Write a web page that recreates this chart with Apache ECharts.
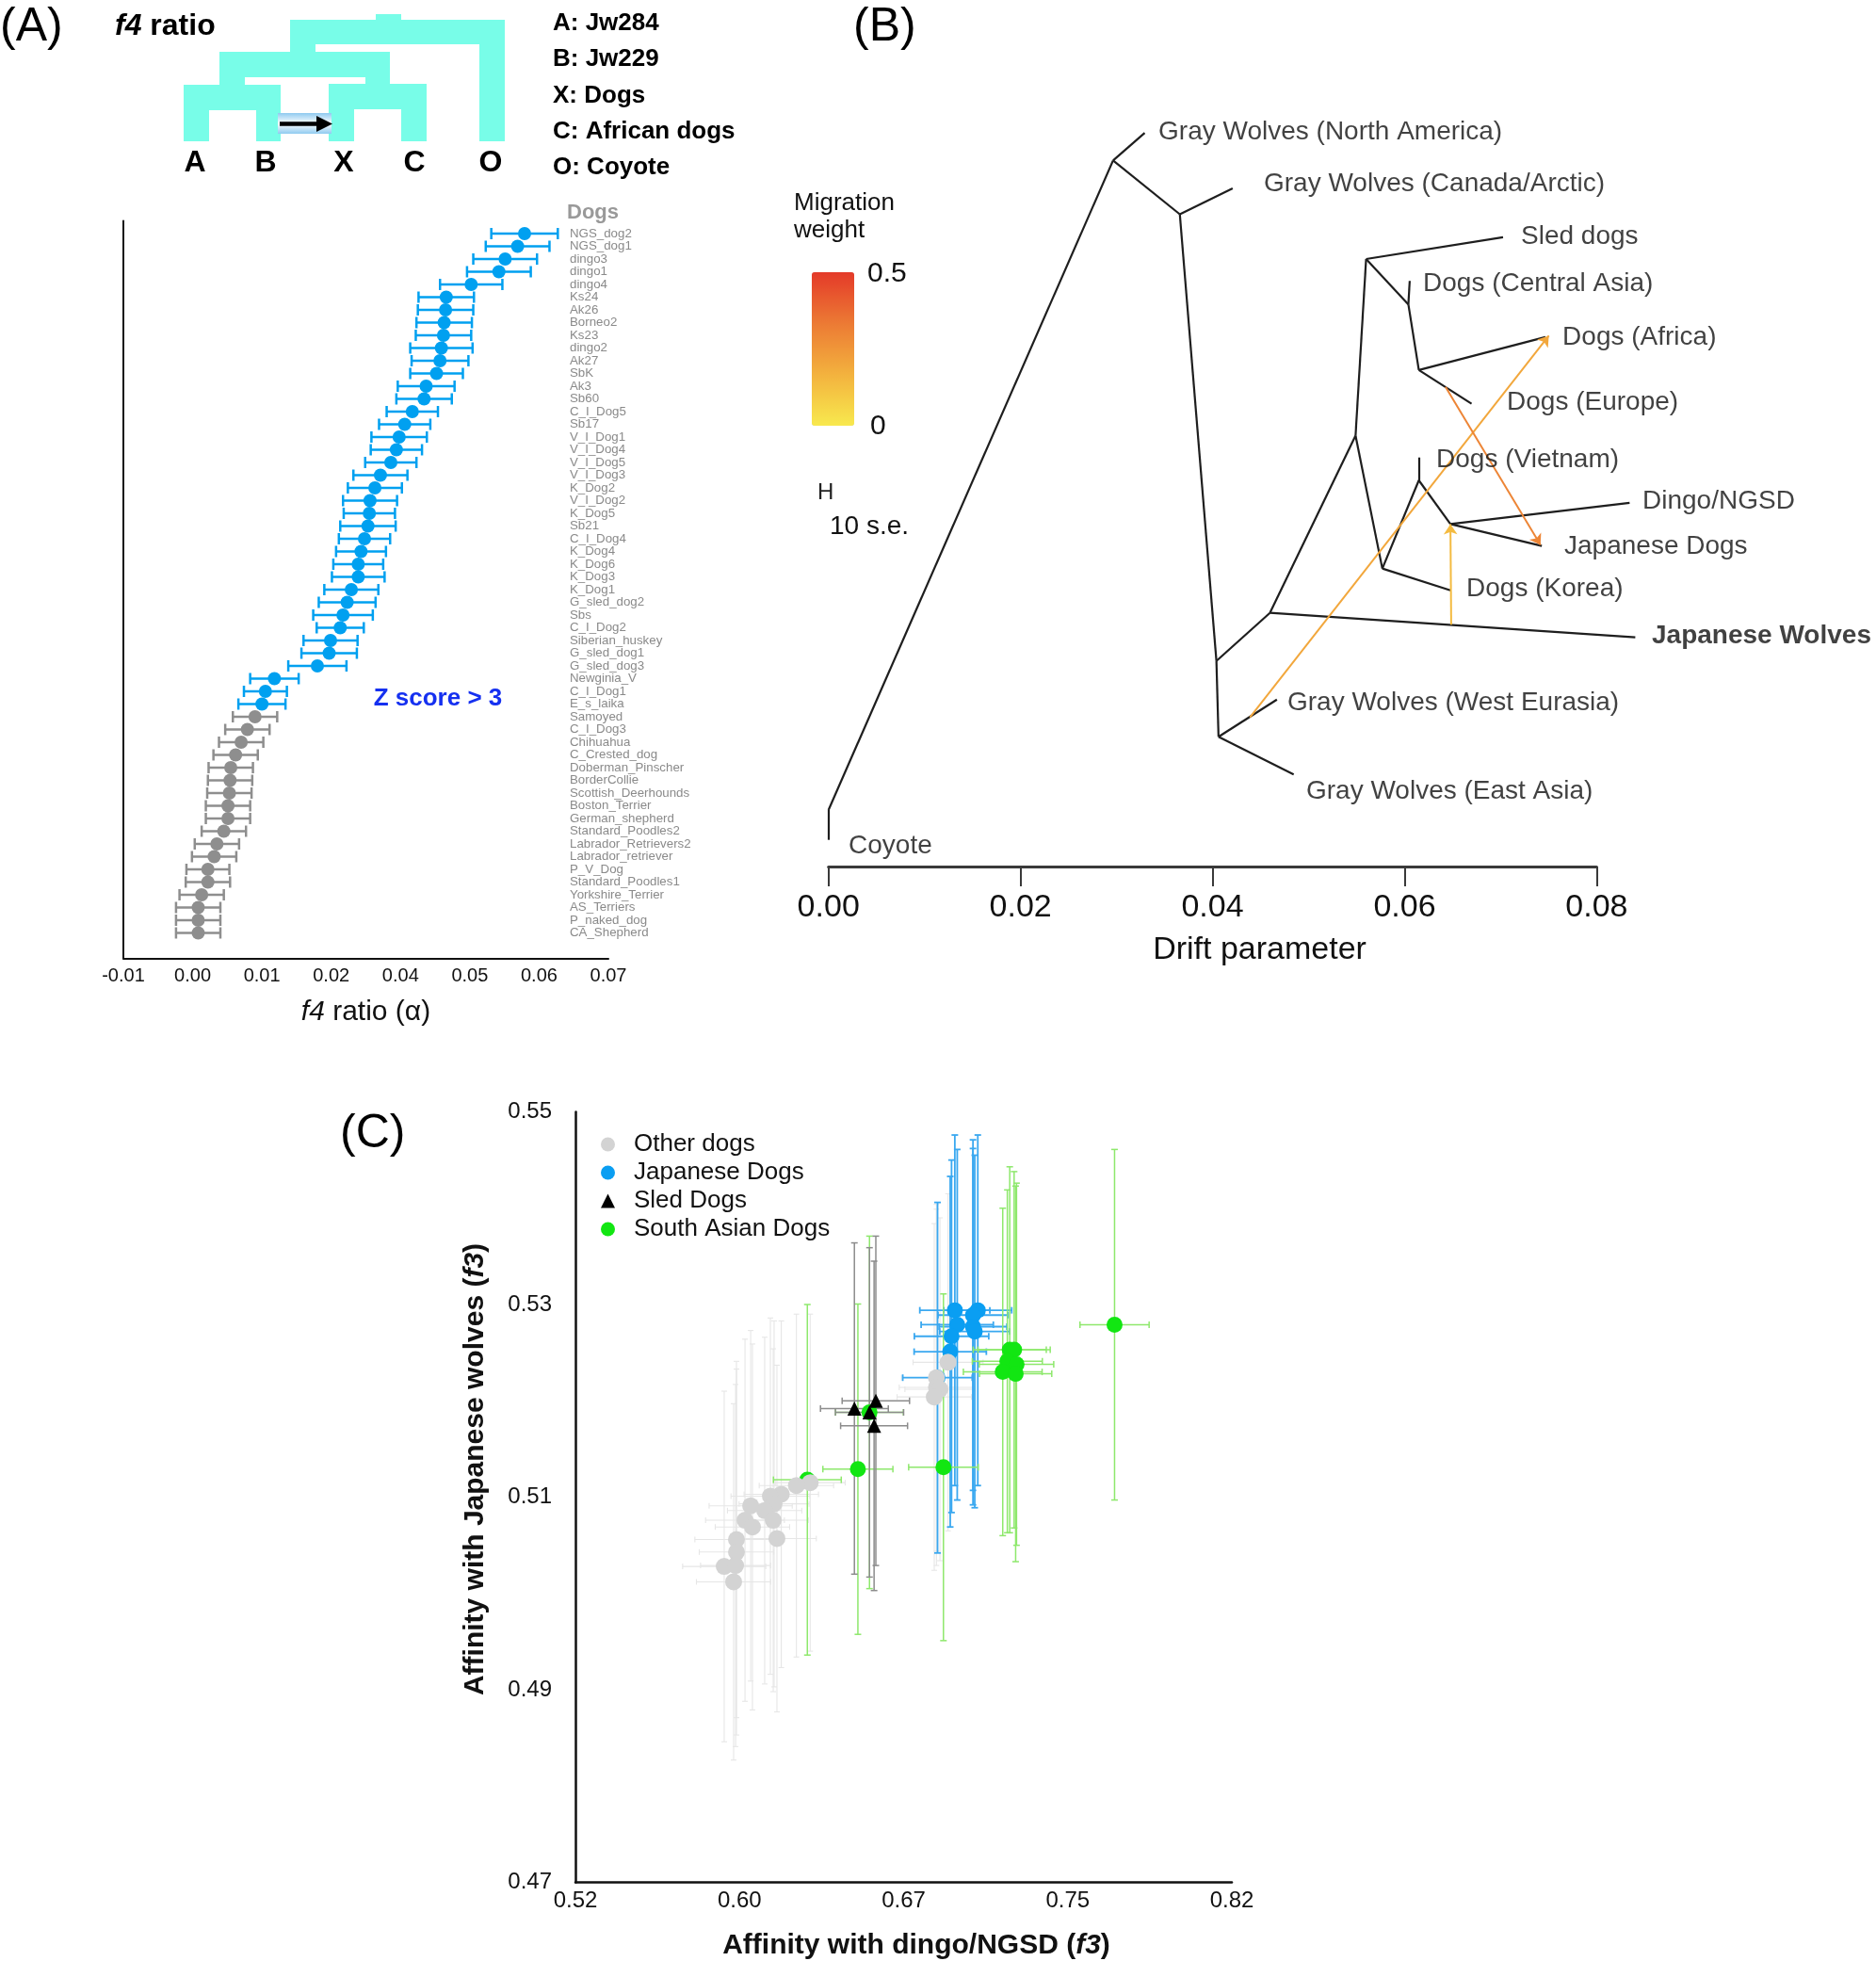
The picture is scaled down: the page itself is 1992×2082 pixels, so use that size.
<!DOCTYPE html>
<html><head><meta charset="utf-8">
<script src="https://cdn.jsdelivr.net/npm/echarts@6/dist/echarts.min.js"></script>
<style>html,body{margin:0;padding:0;background:#fff}#c{width:1992px;height:2082px}</style>
</head><body><div id="c"></div>
<script>
const FONT = "'Liberation Sans', Arial, Helvetica, sans-serif";

// ---------------- Panel A : f4 ratio ----------------
const dogNames = ['NGS_dog2','NGS_dog1','dingo3','dingo1','dingo4','Ks24','Ak26','Borneo2','Ks23','dingo2','Ak27','SbK','Ak3','Sb60','C_I_Dog5','Sb17','V_I_Dog1','V_I_Dog4','V_I_Dog5','V_I_Dog3','K_Dog2','V_I_Dog2','K_Dog5','Sb21','C_I_Dog4','K_Dog4','K_Dog6','K_Dog3','K_Dog1','G_sled_dog2','Sbs','C_I_Dog2','Siberian_huskey','G_sled_dog1','G_sled_dog3','Newginia_V','C_I_Dog1','E_s_laika','Samoyed','C_I_Dog3','Chihuahua','C_Crested_dog','Doberman_Pinscher','BorderCollie','Scottish_Deerhounds','Boston_Terrier','German_shepherd','Standard_Poodles2','Labrador_Retrievers2','Labrador_retriever','P_V_Dog','Standard_Poodles1','Yorkshire_Terrier','AS_Terriers','P_naked_dog','CA_Shepherd'];
const f4Ratio = [0.0479,0.0469,0.0451,0.0442,0.0402,0.0366,0.0365,0.0363,0.0362,0.0359,0.0357,0.0352,0.0337,0.0334,0.0317,0.0306,0.0298,0.0294,0.0286,0.0271,0.0263,0.0256,0.0255,0.0253,0.0248,0.0243,0.0239,0.0239,0.0229,0.0223,0.0217,0.0213,0.0199,0.0197,0.0180,0.0118,0.0105,0.0100,0.0090,0.0079,0.0070,0.0062,0.0055,0.0054,0.0053,0.0051,0.0051,0.0045,0.0035,0.0031,0.0022,0.0022,0.0013,0.0008,0.0008,0.0008];
const f4Err = [0.0048,0.0046,0.0046,0.0046,0.0045,0.0040,0.0040,0.0040,0.0040,0.0045,0.0041,0.0038,0.0041,0.0040,0.0037,0.0037,0.0040,0.0037,0.0037,0.0039,0.0039,0.0039,0.0037,0.0040,0.0037,0.0036,0.0036,0.0038,0.0039,0.0041,0.0043,0.0034,0.0039,0.0040,0.0042,0.0035,0.0031,0.0034,0.0032,0.0032,0.0032,0.0032,0.0032,0.0032,0.0032,0.0032,0.0032,0.0032,0.0032,0.0032,0.0031,0.0032,0.0032,0.0032,0.0032,0.0032];
const zScoreAbove3Count = 38;
const f4TickLabels = ['-0.01','0.00','0.01','0.02','0.04','0.05','0.06','0.07'];

// ---------------- Panel B : TreeMix ----------------
const treeNodeIds   = ['R0','R1','nA','tNA','nB','tCan','nC','nD','tWE','tEA','nE','tJW','nF','nG','tSled','nH','tCA','nI','tAfr','tEur','nJ','tKor','nK','tViet','nL','tDingo','tJD'];
const treeNodeDrift = [0,0,0.02964,0.03293,0.03659,0.04209,0.04040,0.04062,0.04670,0.04845,0.04597,0.08402,0.05489,0.05599,0.07025,0.06039,0.06053,0.06148,0.07466,0.06697,0.05768,0.06477,0.06148,0.06148,0.06477,0.08343,0.07429];
const treeNodeRow   = [77.17,74.0,5.04,2.11,10.75,8.0,58.17,66.23,62.27,70.23,53.07,55.67,34.25,15.5,13.18,20.32,17.82,27.29,23.79,30.86,48.36,50.68,39.0,36.57,43.64,41.39,45.96];
const treeEdges = [['R0','R1'],['R1','nA'],['nA','tNA'],['nA','nB'],['nB','tCan'],['nB','nC'],['nC','nD'],['nD','tWE'],['nD','tEA'],['nC','nE'],['nE','tJW'],['nE','nF'],['nF','nG'],['nG','tSled'],['nG','nH'],['nH','tCA'],['nH','nI'],['nI','tAfr'],['nI','tEur'],['nF','nJ'],['nJ','tKor'],['nJ','nK'],['nK','tViet'],['nK','nL'],['nL','tDingo'],['nL','tJD']];
const leafNames = ['Gray Wolves (North America)','Gray Wolves (Canada/Arctic)','Sled dogs','Dogs (Central Asia)','Dogs (Africa)','Dogs (Europe)','Dogs (Vietnam)','Dingo/NGSD','Japanese Dogs','Dogs (Korea)','Japanese Wolves','Gray Wolves (West Eurasia)','Gray Wolves (East Asia)','Coyote'];
const leafLabelDrift = [0.03436,0.04534,0.07212,0.06192,0.07644,0.07065,0.06329,0.08477,0.07663,0.06643,0.08575,0.04779,0.04975,0.00209];
const leafLabelRow   = [2.0,7.5,13.1,18.1,23.8,30.7,36.8,41.2,46.0,50.5,55.5,62.6,72.0,77.8];
const migFromDrift = [0.04389,0.06426,0.06485];
const migFromRow   = [64.17,29.07,54.33];
const migToDrift   = [0.07502,0.07415,0.06477];
const migToRow     = [23.64,45.86,43.64];
const migWeight    = [0.20,0.30,0.14];
const driftTicks = [0,0.02,0.04,0.06,0.08];

// ---------------- Panel C : f3 scatter ----------------
const otherDogsX = [0.6903,0.6850,0.6850,0.6866,0.6840,0.6273,0.6210,0.6141,0.6091,0.6108,0.6001,0.6065,0.5975,0.6104,0.6009,0.6121,0.5936,0.5936,0.5880,0.5932,0.5923];
const otherDogsY = [0.5240,0.5224,0.5214,0.5212,0.5204,0.5115,0.5112,0.5103,0.5101,0.5093,0.5091,0.5086,0.5076,0.5076,0.5069,0.5057,0.5056,0.5043,0.5028,0.5029,0.5012];
const otherDogsXErr = [0.016,0.016,0.017,0.016,0.017,0.016,0.017,0.017,0.018,0.016,0.019,0.017,0.018,0.016,0.017,0.018,0.019,0.017,0.019,0.016,0.017];
const otherDogsYErr = [0.0175,0.018,0.0185,0.0178,0.018,0.0175,0.0178,0.018,0.0185,0.019,0.0182,0.018,0.0188,0.0178,0.019,0.018,0.0185,0.019,0.0182,0.0188,0.0185];
const japaneseDogsX = [0.6934,0.7039,0.7017,0.6945,0.7017,0.7025,0.6919,0.6913,0.6855];
const japaneseDogsY = [0.5294,0.5294,0.5289,0.5279,0.5277,0.5272,0.5267,0.5251,0.5224];
const japaneseDogsXErr = [0.016,0.0155,0.016,0.0165,0.0155,0.016,0.017,0.0165,0.0159];
const japaneseDogsYErr = [0.0182,0.0182,0.0182,0.0182,0.0185,0.0183,0.0183,0.0182,0.0182];
const sledDogsX = [0.6475,0.6573,0.6544,0.6565];
const sledDogsY = [0.5192,0.5200,0.5188,0.5174];
const sledDogsXErr = [0.0155,0.0154,0.0156,0.0153];
const sledDogsYErr = [0.0172,0.0171,0.0171,0.0171];
const southAsianX = [0.7664,0.7185,0.7205,0.7174,0.7216,0.7153,0.7212,0.6491,0.6882,0.6544,0.6260];
const southAsianY = [0.5279,0.5253,0.5253,0.5241,0.5238,0.5230,0.5228,0.5129,0.5131,0.5188,0.5118];
const southAsianXErr = [0.0158,0.0167,0.0165,0.016,0.017,0.018,0.0165,0.016,0.0159,0.0155,0.0155];
const southAsianYErr = [0.0182,0.019,0.0185,0.0178,0.0188,0.017,0.0195,0.01715,0.018,0.0183,0.0182];
const cTickLabelsX = ['0.52','0.60','0.67','0.75','0.82'];
const cTickLabelsY = ['0.47','0.49','0.51','0.53','0.55'];

// ---------------- helpers ----------------
const BLUE_A = '#00a0f0', GRAY_A = '#8e8e8e';
const migColors = ['#f8e94e','#f3b23e','#ec7a34','#e43a29'];
function lerpColor(stops, t){
  t = Math.max(0, Math.min(1, t));
  const n = stops.length - 1, i = Math.min(n - 1, Math.floor(t * n)), f = t * n - i;
  const a = stops[i], b = stops[i+1];
  const p = (h,k) => parseInt(h.substr(1 + 2*k, 2), 16);
  const c = [0,1,2].map(k => Math.round(p(a,k) + (p(b,k) - p(a,k)) * f));
  return 'rgb(' + c.join(',') + ')';
}
function txt(x, y, text, font, fill, align, vAlign, extra){
  return Object.assign({type:'text', x, y, z:100, silent:true, style:Object.assign({
    text, font, fill: fill || '#000', align: align || 'left', verticalAlign: vAlign || 'middle',
    textAlign: align || 'left', textVerticalAlign: vAlign || 'middle'}, extra || {})});
}
function errBars(name, xs, ys, exs, eys, color, width, cap){
  return {
    type:'custom', name, xAxisIndex:2, yAxisIndex:3, z:2, silent:true, clip:false,
    data: xs.map((x,i) => [x, ys[i], exs[i], eys[i]]),
    encode:{x:0, y:1},
    renderItem(params, api){
      const x = api.value(0), y = api.value(1), ex = api.value(2), ey = api.value(3);
      const l = api.coord([x-ex,y]), r = api.coord([x+ex,y]), t = api.coord([x,y+ey]), b = api.coord([x,y-ey]);
      const st = {stroke:color, lineWidth:width};
      const L = (x1,y1,x2,y2) => ({type:'line', shape:{x1,y1,x2,y2}, style:st});
      return {type:'group', children:[
        L(l[0],l[1],r[0],r[1]), L(l[0],l[1]-cap,l[0],l[1]+cap), L(r[0],r[1]-cap,r[0],r[1]+cap),
        L(t[0],t[1],b[0],b[1]), L(t[0]-cap,t[1],t[0]+cap,t[1]), L(b[0]-cap,b[1],b[0]+cap,b[1])]};
    }
  };
}
const nodeIndex = {};
treeNodeIds.forEach((id,i) => nodeIndex[id] = i);
const P = id => [treeNodeDrift[nodeIndex[id]], treeNodeRow[nodeIndex[id]]];

// ---------------- graphic (panel letters, cladogram, legends) ----------------
const CYAN = '#78fde8';
const cladoRects = [
  [399,15,27,8],[308,21,228,26],[308,47,27,9],[509,47,27,103],
  [233,55,181,27],[233,82,27,9],[388,82,26,8],
  [195,90,103,27],[195,117,27,33],[272,117,26,33],
  [349,89,104,27],[349,116,27,34],[426,116,27,34]
];
const graphics = [];
cladoRects.forEach(r => graphics.push({type:'rect', silent:true, shape:{x:r[0],y:r[1],width:r[2],height:r[3]}, style:{fill:CYAN}}));
graphics.push({type:'rect', silent:true, shape:{x:295,y:120,width:57,height:22},
  style:{fill:new echarts.graphic.LinearGradient(0,0,0,1,[{offset:0,color:'#8fcaf0'},{offset:0.5,color:'#ffffff'},{offset:1,color:'#8fcaf0'}])}});
graphics.push({type:'line', silent:true, shape:{x1:297,y1:131.5,x2:340,y2:131.5}, style:{stroke:'#000', lineWidth:4.5}});
graphics.push({type:'polygon', silent:true, shape:{points:[[336,123],[353,131.5],[336,140]]}, style:{fill:'#000'}});
[['A',207],['B',282],['X',365],['C',440],['O',521]].forEach(([t,x]) => graphics.push(txt(x,173,t,'bold 32px '+FONT,'#000','center')));
['A: Jw284','B: Jw229','X: Dogs','C: African dogs','O: Coyote'].forEach((t,i) => graphics.push(txt(587,[25,63,102,140,178][i],t,'bold 26px '+FONT)));
graphics.push(txt(0,29,'(A)','50px '+FONT));
graphics.push(txt(122,28,'{i|f4} ratio','bold 32px '+FONT,'#000','left','middle',{rich:{i:{fontStyle:'italic',fontWeight:'bold',fontSize:32,fontFamily:FONT}}}));
graphics.push(txt(602,226,'Dogs','bold 22px '+FONT,'#999'));
graphics.push(txt(465,742,'Z score > 3','bold 26px '+FONT,'#1530f0','center'));
graphics.push(txt(906,29,'(B)','50px '+FONT));
graphics.push(txt(843,216,'Migration','26px '+FONT,'#111'));
graphics.push(txt(843,245,'weight','26px '+FONT,'#111'));
graphics.push(txt(921,291,'0.5','30px '+FONT,'#111'));
graphics.push(txt(924,453,'0','30px '+FONT,'#111'));
graphics.push(txt(868,523,'H','24px '+FONT,'#222'));
graphics.push(txt(881,559,'10 s.e.','28px '+FONT,'#111'));
graphics.push(txt(361,1204,'(C)','50px '+FONT));

// ---------------- option ----------------
const series = [];
// Panel A
series.push({
  type:'custom', name:'f4 error', xAxisIndex:0, yAxisIndex:0, z:2, silent:true, clip:false,
  data: f4Ratio.map((v,i) => [v, i, f4Err[i]]), encode:{x:0,y:1},
  renderItem(params, api){
    const c = api.value(0), r = api.value(1), e = api.value(2);
    const lo = api.coord([c-e, r]), hi = api.coord([c+e, r]);
    const st = {stroke: r < zScoreAbove3Count ? BLUE_A : GRAY_A, lineWidth:2.5};
    const h = 6;
    return {type:'group', children:[
      {type:'line', shape:{x1:lo[0],y1:lo[1],x2:hi[0],y2:hi[1]}, style:st},
      {type:'line', shape:{x1:lo[0],y1:lo[1]-h,x2:lo[0],y2:lo[1]+h}, style:st},
      {type:'line', shape:{x1:hi[0],y1:hi[1]-h,x2:hi[0],y2:hi[1]+h}, style:st}]};
  }
});
series.push({type:'scatter', name:'Z>3', xAxisIndex:0, yAxisIndex:0, z:3, symbolSize:14, silent:true,
  itemStyle:{color:BLUE_A, opacity:1},
  data: f4Ratio.map((v,i) => [v,i]).filter(d => d[1] < zScoreAbove3Count)});
series.push({type:'scatter', name:'Z<3', xAxisIndex:0, yAxisIndex:0, z:3, symbolSize:14, silent:true,
  itemStyle:{color:GRAY_A, opacity:1},
  data: f4Ratio.map((v,i) => [v,i]).filter(d => d[1] >= zScoreAbove3Count)});
// Panel B
series.push({type:'lines', coordinateSystem:'cartesian2d', xAxisIndex:1, yAxisIndex:2, silent:true, z:3, clip:false,
  lineStyle:{color:'#1e1e1e', width:2.2, opacity:1, curveness:0},
  data: treeEdges.map(([a,b]) => ({coords:[P(a), P(b)]}))});
const migSeriesIndex = series.length;
series.push({type:'lines', coordinateSystem:'cartesian2d', xAxisIndex:1, yAxisIndex:2, silent:true, z:4, clip:false,
  symbol:['none','arrow'], symbolSize:11,
  lineStyle:{width:2, opacity:1, curveness:0},
  data: migWeight.map((w,i) => ({value:w, coords:[[migFromDrift[i],migFromRow[i]],[migToDrift[i],migToRow[i]]],
    lineStyle:{color: lerpColor(migColors, w/0.5)}}))});
series.push({type:'scatter', name:'leaf labels', xAxisIndex:1, yAxisIndex:2, symbolSize:0, silent:true, z:5, clip:false,
  data: leafNames.map((n,i) => ({name:n, value:[leafLabelDrift[i], leafLabelRow[i]],
    label:{fontWeight: n === 'Japanese Wolves' ? 'bold' : 'normal'}})),
  label:{show:true, position:'right', distance:0, formatter:'{b}', fontSize:28, color:'#111', fontFamily:FONT}});
// Panel C
series.push(errBars('Other dogs err', otherDogsX, otherDogsY, otherDogsXErr, otherDogsYErr, '#e6e6e6', 1.1, 3));
series.push(errBars('Japanese Dogs err', japaneseDogsX, japaneseDogsY, japaneseDogsXErr, japaneseDogsYErr, '#3aa8f0', 1.8, 3.5));
series.push(errBars('South Asian Dogs err', southAsianX, southAsianY, southAsianXErr, southAsianYErr, '#8ee86c', 1.5, 3.5));
series.push(errBars('Sled Dogs err', sledDogsX, sledDogsY, sledDogsXErr, sledDogsYErr, '#8c8c8c', 1.5, 3.5));
const sc = (name, xs, ys, color, symbol, size) => ({type:'scatter', name, xAxisIndex:2, yAxisIndex:3, z:6,
  symbol, symbolSize:size, silent:true, itemStyle:{color, opacity:1}, data: xs.map((x,i) => [x, ys[i]])});
series.push(sc('Japanese Dogs', japaneseDogsX, japaneseDogsY, '#0a9ef2', 'circle', 17));
series.push(sc('South Asian Dogs', southAsianX, southAsianY, '#12e612', 'circle', 17));
series.push(sc('Sled Dogs', sledDogsX, sledDogsY, '#000000', 'triangle', 15));
series.push(sc('Other dogs', otherDogsX, otherDogsY, '#d3d3d3', 'circle', 18));

const option = {
  animation:false,
  backgroundColor:'#ffffff',
  textStyle:{fontFamily:FONT},
  grid:[
    {left:131, top:234.5, width:515, height:783},
    {left:879.7, top:120, width:815.7, height:800},
    {left:611, top:1180.5, width:697, height:818}
  ],
  xAxis:[
    {gridIndex:0, type:'value', min:-0.01, max:0.06, interval:0.01,
     axisLine:{show:true, onZero:false, lineStyle:{color:'#111', width:2}}, axisTick:{show:false}, splitLine:{show:false},
     axisLabel:{fontSize:20, color:'#111', margin:9, showMinLabel:true, showMaxLabel:true,
       formatter: v => f4TickLabels[Math.round((v + 0.01) / 0.01)] || ''},
     name:'{i|f4} ratio (α)', nameLocation:'middle', nameGap:42,
     nameTextStyle:{fontSize:30, color:'#111', rich:{i:{fontStyle:'italic', fontSize:30, color:'#111'}}}},
    {gridIndex:1, type:'value', min:0, max:0.08, interval:0.02,
     axisLine:{show:true, onZero:false, lineStyle:{color:'#3a3a3a', width:3}},
     axisTick:{show:true, length:21, lineStyle:{color:'#3a3a3a', width:2}}, splitLine:{show:false},
     axisLabel:{fontSize:34, color:'#111', margin:27, showMinLabel:true, showMaxLabel:true,
       formatter: v => { const i = driftTicks.findIndex(t => Math.abs(t - v) < 1e-9); return i < 0 ? '' : driftTicks[i].toFixed(2); }},
     name:'Drift parameter', nameLocation:'middle', nameGap:72,
     nameTextStyle:{fontSize:34, color:'#111', padding:[0,0,0,100]}},
    {gridIndex:2, type:'value', min:0.52, max:0.82, interval:0.075,
     axisLine:{show:true, onZero:false, lineStyle:{color:'#111', width:2.5}}, axisTick:{show:false}, splitLine:{show:false},
     axisLabel:{fontSize:24, color:'#111', margin:8, showMinLabel:true, showMaxLabel:true,
       formatter: v => cTickLabelsX[Math.round((v - 0.52) / 0.075)] || ''},
     name:'{b|Affinity with dingo/NGSD (}{bi|f3}{b|)}', nameLocation:'middle', nameGap:52,
     nameTextStyle:{padding:[0,0,0,27], rich:{b:{fontSize:30, fontWeight:'bold', color:'#111'}, bi:{fontSize:30, fontWeight:'bold', fontStyle:'italic', color:'#111'}}}}
  ],
  yAxis:[
    {gridIndex:0, type:'value', inverse:true, min:-1, max:57,
     axisLine:{show:true, onZero:false, lineStyle:{color:'#111', width:2}}, axisTick:{show:false}, axisLabel:{show:false}, splitLine:{show:false}},
    {gridIndex:0, type:'value', inverse:true, min:-1, max:57, interval:1, position:'right', offset:-45,
     axisLine:{show:false}, axisTick:{show:false}, splitLine:{show:false},
     axisLabel:{show:true, margin:4, fontSize:13.3, color:'#8a8a8a', showMinLabel:true, showMaxLabel:true,
       formatter: v => { const i = Math.round(v); return (Math.abs(i - v) < 1e-6 && i >= 0 && i < dogNames.length) ? dogNames[i] : ''; }}},
    {gridIndex:1, type:'value', inverse:true, min:0, max:80, show:false},
    {gridIndex:2, type:'value', min:0.47, max:0.55, interval:0.02,
     axisLine:{show:true, onZero:false, lineStyle:{color:'#111', width:2.5}}, axisTick:{show:false}, splitLine:{show:false},
     axisLabel:{fontSize:24, color:'#111', margin:25, showMinLabel:true, showMaxLabel:true,
       formatter: v => cTickLabelsY[Math.round((v - 0.47) / 0.02)] || ''},
     name:'{b|Affinity with Japanese wolves (}{bi|f3}{b|)}', nameLocation:'middle', nameGap:91,
     nameTextStyle:{padding:[0,0,0,59], rich:{b:{fontSize:30, fontWeight:'bold', color:'#111'}, bi:{fontSize:30, fontWeight:'bold', fontStyle:'italic', color:'#111'}}}}
  ],
  visualMap:[{type:'continuous', seriesIndex:[migSeriesIndex], min:0, max:0.5, calculable:false,
    left:862, top:289, itemWidth:45, itemHeight:163, padding:0, text:null, show:true,
    inRange:{color:migColors}}],
  legend:{data:['Other dogs','Japanese Dogs','Sled Dogs','South Asian Dogs'], orient:'vertical', left:633, top:1197,
    itemWidth:15, itemHeight:15, itemGap:4, selectedMode:false,
    textStyle:{fontSize:26, color:'#111', lineHeight:26, padding:[0,0,0,15]}},
  graphic: graphics,
  series
};
const chart = echarts.init(document.getElementById('c'), null, {renderer:'canvas'});
chart.setOption(option);
</script></body></html>
